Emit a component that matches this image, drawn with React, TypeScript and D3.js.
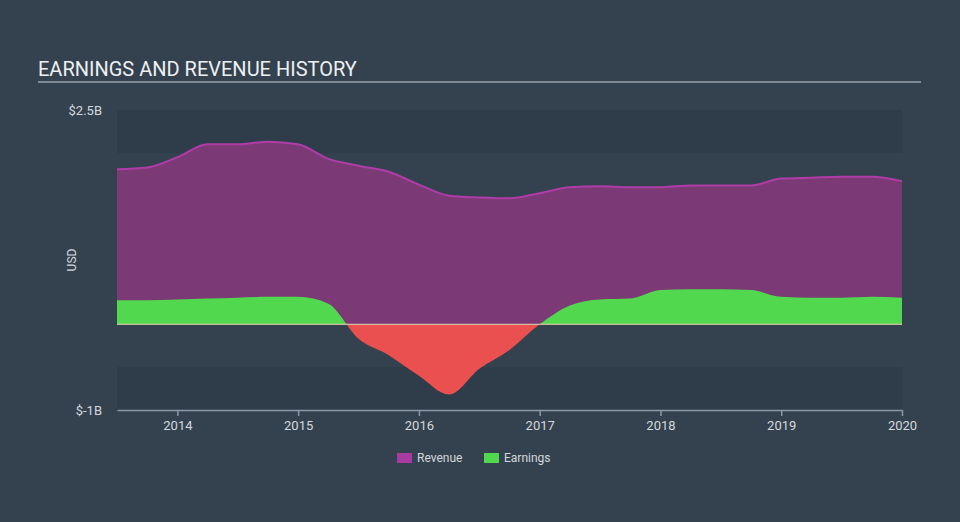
import { useEffect, useRef } from 'react';
import * as d3 from 'd3';

// quarterly points, year as decimal, values in billions USD
const periods = [2013.5, 2013.75, 2014.0, 2014.25, 2014.5, 2014.75, 2015.0, 2015.25, 2015.5, 2015.75,
  2016.0, 2016.25, 2016.5, 2016.75, 2017.0, 2017.25, 2017.5, 2017.75, 2018.0, 2018.25, 2018.5,
  2018.75, 2019.0, 2019.25, 2019.5, 2019.75, 2020.0];
const revenue = [1.81, 1.83, 1.95, 2.10, 2.10, 2.13, 2.10, 1.93, 1.85, 1.78,
  1.63, 1.50, 1.48, 1.47, 1.53, 1.60, 1.61, 1.60, 1.60, 1.62, 1.62,
  1.62, 1.70, 1.71, 1.72, 1.72, 1.67];
const earnings = [0.28, 0.28, 0.29, 0.30, 0.31, 0.32, 0.32, 0.24, -0.17, -0.36,
  -0.60, -0.82, -0.52, -0.30, 0.0, 0.22, 0.29, 0.30, 0.40, 0.41, 0.41,
  0.40, 0.32, 0.31, 0.31, 0.32, 0.31];
const yearTicks = [2014, 2015, 2016, 2017, 2018, 2019, 2020];
const yTicks = [2.5, -1];
const legendItems = [
  { name: 'Revenue', color: '#a83ba0' },
  { name: 'Earnings', color: '#52d84f' },
];

type Pt = { t: number; rev: number; earn: number };

const App = () => {
  const ref = useRef<SVGSVGElement | null>(null);

  useEffect(() => {
    document.body.style.margin = '0';
    const svg = d3.select(ref.current);
    svg.selectAll('*').remove();

    const data: Pt[] = periods.map((t, i) => ({ t, rev: revenue[i], earn: earnings[i] }));

    const x = d3.scaleLinear().domain([2013.5, 2020.0]).range([117, 902]);
    const y = d3.scaleLinear().domain([-1, 2.5]).range([410, 110]);

    svg.append('rect').attr('width', 960).attr('height', 522).attr('fill', '#34424f');

    // darker bands at top and bottom of plot
    svg.append('rect').attr('x', x(2013.5)).attr('width', x(2020) - x(2013.5))
      .attr('y', y(2.5)).attr('height', y(2.0) - y(2.5)).attr('fill', '#2f3c49');
    svg.append('rect').attr('x', x(2013.5)).attr('width', x(2020) - x(2013.5))
      .attr('y', y(-0.5)).attr('height', y(-1) - y(-0.5)).attr('fill', '#2f3c49');

    // title
    svg.append('text').attr('x', 38).attr('y', 76).text('EARNINGS AND REVENUE HISTORY')
      .attr('fill', '#eef0f2').attr('font-size', 20).attr('font-family', 'Roboto');
    svg.append('line').attr('x1', 38).attr('x2', 921).attr('y1', 82).attr('y2', 82)
      .attr('stroke', '#9aa3ad').attr('stroke-width', 1.5);

    const curve = d3.curveMonotoneX;

    const revArea = d3.area<Pt>().x(d => x(d.t)).y0(y(0)).y1(d => y(d.rev)).curve(curve);
    const revLine = d3.line<Pt>().x(d => x(d.t)).y(d => y(d.rev)).curve(curve);
    svg.append('path').datum(data).attr('d', revArea).attr('fill', '#7b3a75');
    svg.append('path').datum(data).attr('d', revLine).attr('fill', 'none')
      .attr('stroke', '#b03ca8').attr('stroke-width', 2);

    const defs = svg.append('defs');
    defs.append('clipPath').attr('id', 'above').append('rect')
      .attr('x', 0).attr('y', 0).attr('width', 960).attr('height', y(0));
    defs.append('clipPath').attr('id', 'below').append('rect')
      .attr('x', 0).attr('y', y(0)).attr('width', 960).attr('height', 522 - y(0));

    const earnArea = d3.area<Pt>().x(d => x(d.t)).y0(y(0)).y1(d => y(d.earn)).curve(curve);
    svg.append('path').datum(data).attr('d', earnArea).attr('fill', '#52d84f')
      .attr('clip-path', 'url(#above)');
    svg.append('path').datum(data).attr('d', earnArea).attr('fill', '#eb5050')
      .attr('clip-path', 'url(#below)');

    // zero line
    svg.append('line').attr('x1', x(2013.5)).attr('x2', x(2020)).attr('y1', y(0)).attr('y2', y(0))
      .attr('stroke', '#e6d6b0').attr('stroke-width', 1);

    // y labels
    svg.selectAll('.ylab').data(yTicks).enter().append('text')
      .attr('x', 102).attr('y', d => y(d)).attr('dy', '0.35em').attr('text-anchor', 'end')
      .attr('fill', '#d4d8dc').attr('font-size', 13).attr('font-family', 'Roboto')
      .text(d => `$${d}B`);
    svg.append('text').attr('transform', 'translate(76,260) rotate(-90)')
      .attr('text-anchor', 'middle').attr('fill', '#d4d8dc').attr('font-size', 12)
      .attr('font-family', 'Roboto').text('USD');

    // x axis
    const xAxis = svg.append('g').attr('transform', `translate(0,${y(-1)})`)
      .call(d3.axisBottom(x).tickValues(yearTicks).tickFormat(d => String(d)).tickSize(6).tickSizeOuter(0));
    xAxis.select('.domain').attr('stroke', '#8a97a6').attr('stroke-width', 1.5);
    xAxis.selectAll('.tick line').attr('stroke', '#8a97a6').attr('stroke-width', 1.5);
    xAxis.selectAll('.tick text').attr('fill', '#d4d8dc').attr('font-size', 13)
      .attr('font-family', 'Roboto').attr('dy', '0.85em');

    // legend
    const lx = [397, 484];
    legendItems.forEach((item, i) => {
      svg.append('rect').attr('x', lx[i]).attr('y', 453).attr('width', 15).attr('height', 10)
        .attr('fill', item.color);
      svg.append('text').attr('x', lx[i] + 20).attr('y', 462).text(item.name)
        .attr('fill', '#d4d8dc').attr('font-size', 12).attr('font-family', 'Roboto');
    });
  }, []);

  return <svg ref={ref} width={960} height={522} style={{ display: 'block' }} />;
};

export default App;
